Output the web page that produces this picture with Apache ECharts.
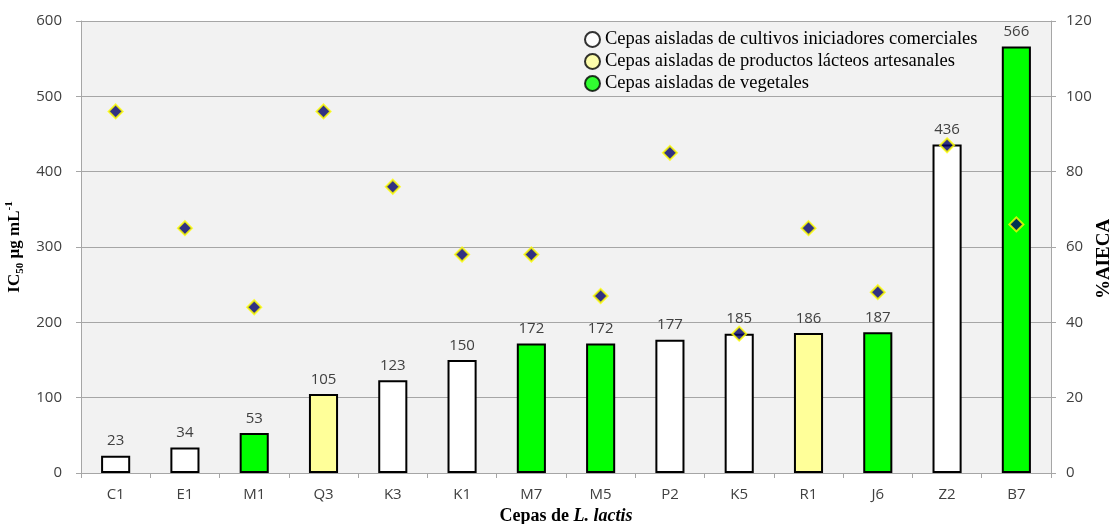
<!DOCTYPE html>
<html>
<head>
<meta charset="utf-8">
<script src="https://cdn.jsdelivr.net/npm/echarts@6/dist/echarts.min.js"></script>
<style>
html,body{margin:0;padding:0;background:#fff;}
#chart{width:1120px;height:524px;}
</style>
</head>
<body>
<div id="chart"></div>
<script>
// ---- data ----
const categories = ['C1','E1','M1','Q3','K3','K1','M7','M5','P2','K5','R1','J6','Z2','B7'];
const ic50Values = [23,34,53,105,123,150,172,172,177,185,186,187,436,566];
const aiecaValues = [96,65,44,96,76,58,58,47,85,37,65,48,87,66];
const strainOrigin = ['com','com','veg','art','com','com','veg','veg','com','com','art','veg','com','veg'];
const groupKeys = ['com','art','veg'];
const groupNames = [
  'Cepas aisladas de cultivos iniciadores comerciales',
  'Cepas aisladas de productos lácteos artesanales',
  'Cepas aisladas de vegetales'
];
const leftTicks = [0,100,200,300,400,500,600];
const rightTicks = [0,20,40,60,80,100,120];

// ---- styles ----
const groupColors = { com: '#ffffff', art: '#ffff99', veg: '#00ff00' };
const tickFont = '"Open Sans", "Liberation Sans", sans-serif';
const serif = '"Liberation Serif", "DejaVu Serif", serif';

const barData = ic50Values.map((v, i) => ({
  value: v,
  itemStyle: { color: groupColors[strainOrigin[i]] }
}));

const legendSeries = groupKeys.map((k, i) => ({
  name: groupNames[i],
  type: 'scatter',
  data: [],
  itemStyle: { color: groupColors[k], borderColor: '#000', borderWidth: 1 }
}));

const chart = echarts.init(document.getElementById('chart'), null, { renderer: 'canvas' });
chart.setOption({
  animation: false,
  backgroundColor: '#ffffff',
  grid: {
    left: 81, right: 69, top: 21, bottom: 51,
    outerBoundsMode: 'none',
    containLabel: false,
    show: true, backgroundColor: '#f2f2f2', borderWidth: 0
  },
  legend: {
    orient: 'vertical',
    left: 584, top: 30,
    icon: 'circle',
    itemWidth: 15, itemHeight: 15, itemGap: 3,
    padding: 0,
    data: groupNames,
    textStyle: { fontFamily: serif, fontSize: 18.5, lineHeight: 18, color: '#000', padding: [0,0,0,0] }
  },
  xAxis: {
    type: 'category',
    data: categories,
    name: '{b|Cepas de }{i|L. lactis}',
    nameLocation: 'middle',
    nameGap: 32,
    nameTextStyle: {
      rich: {
        b: { fontFamily: serif, fontSize: 18, fontWeight: 'bold', color: '#000' },
        i: { fontFamily: serif, fontSize: 18, fontWeight: 'bold', fontStyle: 'italic', color: '#000' }
      }
    },
    axisLine: { lineStyle: { color: '#a6a6a6', width: 1 } },
    axisTick: { show: true, length: 5, lineStyle: { color: '#a6a6a6' } },
    axisLabel: { fontFamily: tickFont, fontSize: 15, color: '#404040', margin: 14 }
  },
  yAxis: [
    {
      type: 'value',
      min: leftTicks[0], max: leftTicks[leftTicks.length - 1], interval: leftTicks[1] - leftTicks[0],
      name: '{a|IC}{s|50}{a| µg mL}{p|-1}',
      nameLocation: 'middle',
      nameGap: 52,
      nameTextStyle: {
        rich: {
          a: { fontFamily: serif, fontSize: 17, fontWeight: 'bold', color: '#000', lineHeight: 22, verticalAlign: 'middle' },
          s: { fontFamily: serif, fontSize: 11, fontWeight: 'bold', color: '#000', lineHeight: 22, verticalAlign: 'bottom', padding: [7,0,0,0] },
          p: { fontFamily: serif, fontSize: 11, fontWeight: 'bold', color: '#000', lineHeight: 22, verticalAlign: 'top', padding: [0,0,8,0] }
        }
      },
      axisLine: { show: true, lineStyle: { color: '#a6a6a6', width: 1 } },
      axisTick: { show: true, length: 5, lineStyle: { color: '#a6a6a6' } },
      axisLabel: { fontFamily: tickFont, fontSize: 15, color: '#404040', margin: 19 },
      splitLine: { show: true, lineStyle: { color: '#a6a6a6', width: 1 } }
    },
    {
      type: 'value',
      min: rightTicks[0], max: rightTicks[rightTicks.length - 1], interval: rightTicks[1] - rightTicks[0],
      name: '%AIECA',
      nameLocation: 'middle',
      nameGap: 44,
      nameMoveOverlap: false,
      nameRotate: 90,
      nameTextStyle: { fontFamily: serif, fontSize: 19, fontWeight: 'bold', color: '#000', padding: [0,24,0,0] },
      axisLine: { show: true, lineStyle: { color: '#a6a6a6', width: 1 } },
      axisTick: { show: true, length: 5, lineStyle: { color: '#a6a6a6' } },
      axisLabel: { fontFamily: tickFont, fontSize: 15, color: '#404040', margin: 15 },
      splitLine: { show: false }
    }
  ],
  series: [
    {
      name: 'IC50',
      type: 'bar',
      yAxisIndex: 0,
      barWidth: '42%',
      data: barData,
      itemStyle: { borderColor: '#000', borderWidth: 2 },
      label: {
        show: true, position: 'top', distance: 7,
        fontFamily: tickFont, fontSize: 15, color: '#404040'
      },
      z: 2
    },
    {
      name: '%AIECA',
      type: 'scatter',
      yAxisIndex: 1,
      symbol: 'diamond',
      symbolSize: 14,
      data: aiecaValues,
      itemStyle: { color: '#000066', borderColor: '#ffff00', borderWidth: 2 },
      z: 5
    },
    ...legendSeries
  ]
});
</script>
</body>
</html>
